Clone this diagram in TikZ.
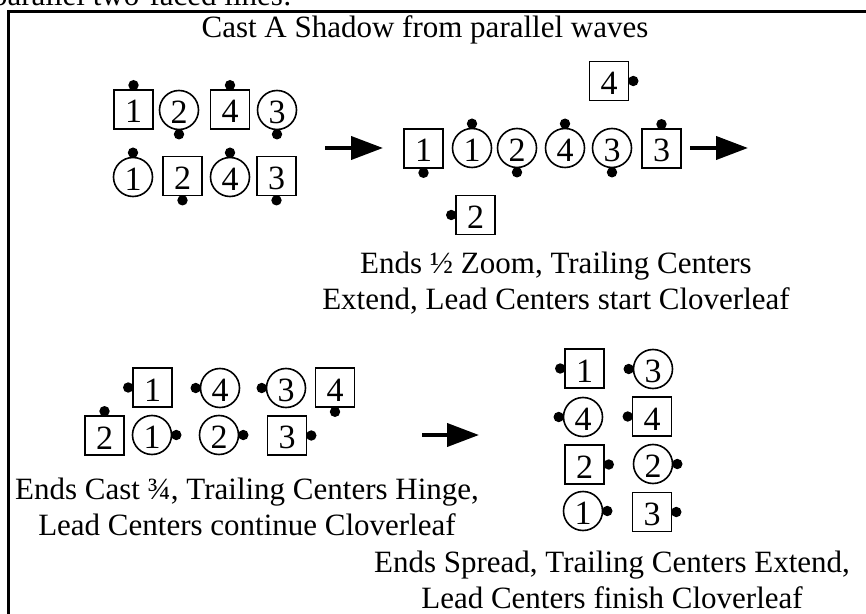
\documentclass[tikz,border=0pt]{standalone}
\usepackage{fontspec}
\setmainfont{Liberation Serif}
\usetikzlibrary{arrows.meta}
\begin{document}
\begin{tikzpicture}[x=0.5pt, y=-0.5pt, font=\fontsize{15.5}{18}\selectfont,
    boy/.style={draw, line width=0.8pt, minimum size=19.5pt, inner sep=0pt,
      font=\fontsize{17}{17}\selectfont, text height=13.5pt},
    girl/.style={boy, circle},
    go/.style={line width=2pt, -{Triangle[length=16pt, width=11.5pt]}}]
\useasboundingbox (0,0) rectangle (866,614);
\node[anchor=base east, inner sep=0pt] (lead) at (292,6) {parallel two-faced lines:};
\draw[line width=1.5pt] (8,620) -- (8,12) -- (872,12);
\node (title) at (425,30) {Cast A Shadow from parallel waves};

\node[boy]  (pb1) at (133.5,109.5) {1};
\node[girl] (pg2) at (179,110) {2};
\node[boy]  (pb4) at (230,109.5) {4};
\node[girl] (pg3) at (277,110) {3};
\node[girl] (pg1) at (133,177) {1};
\node[boy]  (pb2) at (182.5,176) {2};
\node[girl] (pg4) at (230,177) {4};
\node[boy]  (pb3) at (276.5,176) {3};
\fill ([yshift=2pt]pb1.north) circle (2.6pt);
\fill ([yshift=-2pt]pg2.south) circle (2.6pt);
\fill ([yshift=2pt]pb4.north) circle (2.6pt);
\fill ([yshift=-2pt]pg3.south) circle (2.6pt);
\fill ([yshift=2pt]pg1.north) circle (2.6pt);
\fill ([yshift=-2pt]pb2.south) circle (2.6pt);
\fill ([yshift=2pt]pg4.north) circle (2.6pt);
\fill ([yshift=-2pt]pb3.south) circle (2.6pt);

\coordinate (go1a) at (325,148);
\coordinate (go1b) at (383,148);
\draw[go] (go1a) -- (go1b);

\node[boy]  (zb4) at (609,81) {4};
\node[boy]  (zb1) at (423.5,148.5) {1};
\node[girl] (zg1) at (472,148) {1};
\node[girl] (zg2) at (517,148) {2};
\node[girl] (zg4) at (565,148) {4};
\node[girl] (zg3) at (612,148) {3};
\node[boy]  (zb3) at (661.5,148.5) {3};
\node[boy]  (zb2) at (475.5,215) {2};
\fill ([xshift=2pt]zb4.east) circle (2.6pt);
\fill ([yshift=-2pt]zb1.south) circle (2.6pt);
\fill ([yshift=2pt]zg1.north) circle (2.6pt);
\fill ([yshift=-2pt]zg2.south) circle (2.6pt);
\fill ([yshift=2pt]zg4.north) circle (2.6pt);
\fill ([yshift=-2pt]zg3.south) circle (2.6pt);
\fill ([yshift=2pt]zb3.north) circle (2.6pt);
\fill ([xshift=-2pt]zb2.west) circle (2.6pt);

\coordinate (go2a) at (690,148);
\coordinate (go2b) at (748,148);
\draw[go] (go2a) -- (go2b);

\node[align=center] (zoom) at (556,283) {Ends ½ Zoom, Trailing Centers\\Extend, Lead Centers start Cloverleaf};

\node[boy]  (cb1) at (152.5,387.5) {1};
\node[girl] (cg4) at (220,388) {4};
\node[girl] (cg3) at (286,388) {3};
\node[boy]  (cb4) at (335,387.5) {4};
\node[boy]  (cb2) at (104.5,435.5) {2};
\node[girl] (cg1) at (152,435) {1};
\node[girl] (cg2) at (219,435) {2};
\node[boy]  (cb3) at (287,435.5) {3};
\fill ([xshift=-2pt]cb1.west) circle (2.6pt);
\fill ([xshift=-2pt]cg4.west) circle (2.6pt);
\fill ([xshift=-2pt]cg3.west) circle (2.6pt);
\fill ([yshift=-2pt]cb4.south) circle (2.6pt);
\fill ([yshift=2pt]cb2.north) circle (2.6pt);
\fill ([xshift=2pt]cg1.east) circle (2.6pt);
\fill ([xshift=2pt]cg2.east) circle (2.6pt);
\fill ([xshift=2pt]cb3.east) circle (2.6pt);

\coordinate (go3a) at (422,435);
\coordinate (go3b) at (479,435);
\draw[go] (go3a) -- (go3b);

\node[align=center] (cast) at (247,507) {Ends Cast ¾, Trailing Centers Hinge,\\Lead Centers continue Cloverleaf};

\node[boy]  (sb1) at (584.5,368.5) {1};
\node[girl] (sg3) at (653,369) {3};
\node[girl] (sg4) at (583,417) {4};
\node[boy]  (sb4) at (652,416.5) {4};
\node[boy]  (sb2) at (584.5,464.5) {2};
\node[girl] (sg2) at (653,464) {2};
\node[girl] (sg1) at (583,511) {1};
\node[boy]  (sb3) at (652,512) {3};
\fill ([xshift=-2pt]sb1.west) circle (2.6pt);
\fill ([xshift=-2pt]sg3.west) circle (2.6pt);
\fill ([xshift=-2pt]sg4.west) circle (2.6pt);
\fill ([xshift=-2pt]sb4.west) circle (2.6pt);
\fill ([xshift=2pt]sb2.east) circle (2.6pt);
\fill ([xshift=2pt]sg2.east) circle (2.6pt);
\fill ([xshift=2pt]sg1.east) circle (2.6pt);
\fill ([xshift=2pt]sb3.east) circle (2.6pt);

\node[align=center] (spread) at (612,580) {Ends Spread, Trailing Centers Extend,\\Lead Centers finish Cloverleaf};
\end{tikzpicture}
\end{document}
